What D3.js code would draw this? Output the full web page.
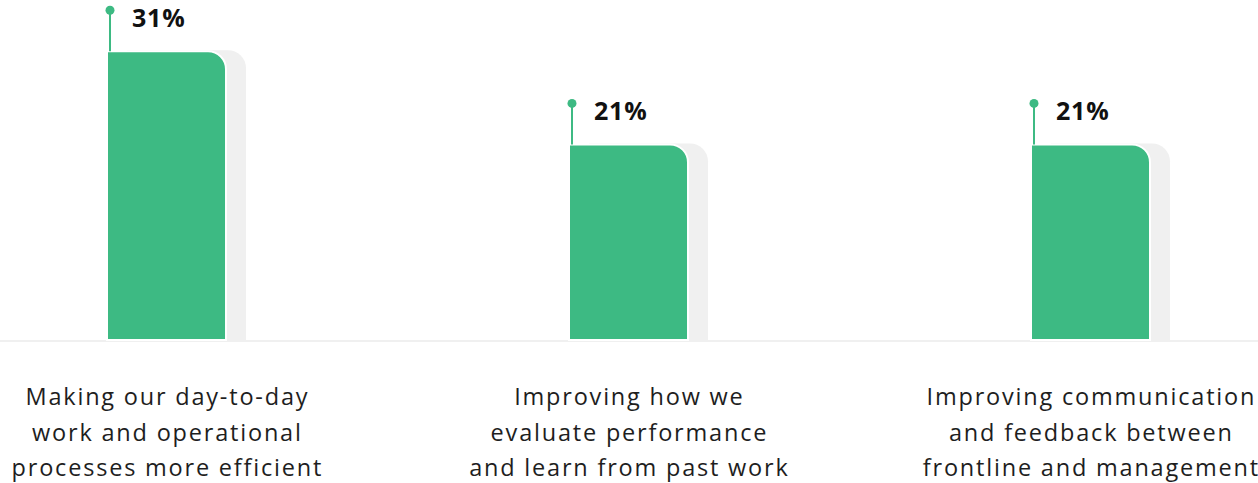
<!DOCTYPE html>
<html><head><meta charset="utf-8">
<script src="https://cdn.jsdelivr.net/npm/d3@7"></script>
<style>
html,body{margin:0;padding:0;background:#fff;overflow:hidden}
svg{display:block}
</style></head>
<body>
<svg id="chart" width="1258" height="483"></svg>
<script>
const categories = [
  ["Making our day-to-day", "work and operational", "processes more efficient"],
  ["Improving how we", "evaluate performance", "and learn from past work"],
  ["Improving communication", "and feedback between", "frontline and management"]
];
const values = [31, 21, 21];
const valueLabels = ["31%", "21%", "21%"];

const W = 1258, H = 483;
const svg = d3.select("#chart");
const baseY = 340;
const barW = 119;
const x = d3.scalePoint().domain(d3.range(categories.length)).range([166.5, 1090.5]);
const y = d3.scaleLinear().domain([0, 36.5]).range([baseY, 0]);
const green = "#3dba83";
const r = 18;
const font = "'Open Sans', sans-serif";
const ls = 1.8;

function barPath(x0, y0, w, h) {
  return `M${x0},${y0 + h} L${x0},${y0} L${x0 + w - r},${y0} A${r},${r} 0 0 1 ${x0 + w},${y0 + r} L${x0 + w},${y0 + h} Z`;
}

// baseline
svg.append("line").attr("x1", 0).attr("x2", W).attr("y1", baseY + 1).attr("y2", baseY + 1)
  .attr("stroke", "#f0f0f0").attr("stroke-width", 2);

const g = svg.selectAll("g.bar").data(values).join("g").attr("class", "bar");

// shadow
g.append("path")
  .attr("d", (d, i) => barPath(x(i) - barW / 2 + 20, y(d) - 1, barW, baseY - y(d) + 1))
  .attr("fill", "#f0f0f0");

// main bar
g.append("path")
  .attr("d", (d, i) => barPath(x(i) - barW / 2, y(d), barW, baseY - y(d)))
  .attr("fill", green).attr("stroke", "#fff").attr("stroke-width", 2);

// pin
g.append("line")
  .attr("x1", (d, i) => x(i) - barW / 2 + 3).attr("x2", (d, i) => x(i) - barW / 2 + 3)
  .attr("y1", d => y(d) - 41).attr("y2", d => y(d))
  .attr("stroke", green).attr("stroke-width", 2);
g.append("circle")
  .attr("cx", (d, i) => x(i) - barW / 2 + 3).attr("cy", d => y(d) - 41).attr("r", 4.5)
  .attr("fill", green);

g.append("text")
  .attr("x", (d, i) => x(i) - barW / 2 + 25).attr("y", d => y(d) - 24)
  .attr("font-family", font).attr("font-weight", 700)
  .attr("font-size", 25).attr("letter-spacing", 0.8).attr("fill", "#111")
  .text((d, i) => valueLabels[i]);

// category labels
const lab = svg.selectAll("text.cat").data(categories).join("text").attr("class", "cat")
  .attr("text-anchor", "middle")
  .attr("font-family", font).attr("font-size", 23.5).attr("letter-spacing", ls).attr("fill", "#1e1e1e");
lab.selectAll("tspan").data((d, i) => d.map(t => ({t, i}))).join("tspan")
  .attr("x", d => x(d.i) + ls / 2).attr("y", (d, j) => 405 + j * 35.5)
  .text(d => d.t);
</script>
</body></html>
